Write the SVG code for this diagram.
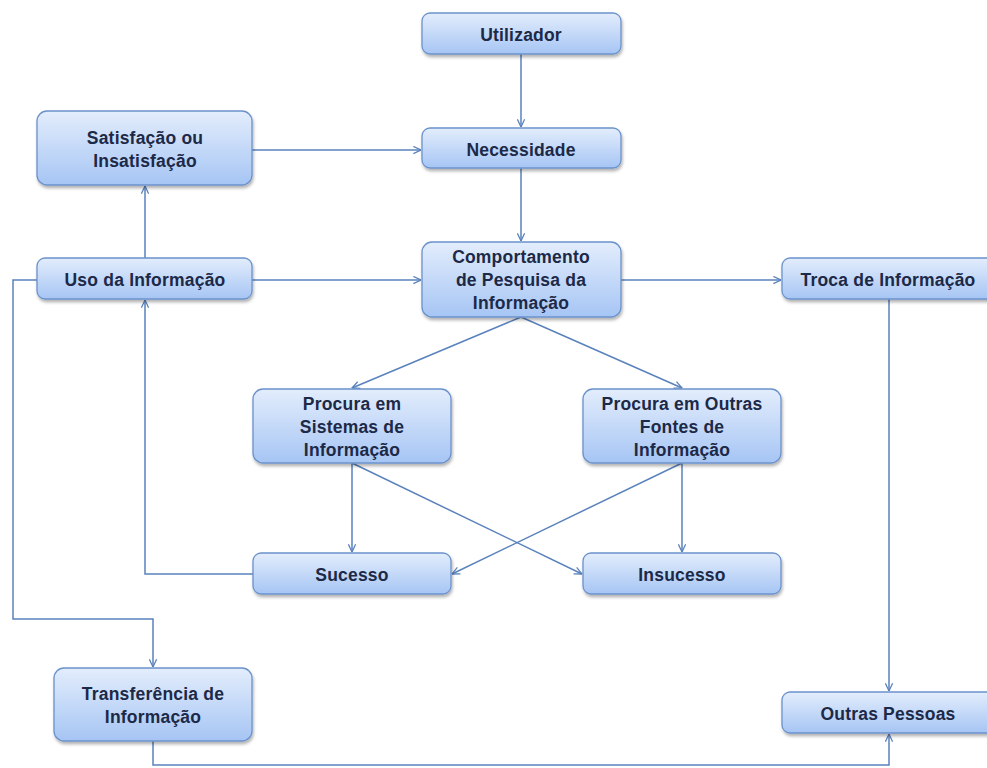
<svg xmlns="http://www.w3.org/2000/svg" width="987" height="768" viewBox="0 0 987 768">
<defs>
<linearGradient id="g" x1="0" y1="0" x2="0" y2="1">
<stop offset="0" stop-color="#e3edfc"/>
<stop offset="1" stop-color="#a6c5f4"/>
</linearGradient>
<filter id="sh" x="-10%" y="-20%" width="120%" height="150%">
<feDropShadow dx="1" dy="2.5" stdDeviation="1.6" flood-color="#000" flood-opacity="0.3"/>
</filter>
<marker id="a" viewBox="0 0 10 10" refX="9.5" refY="5" markerWidth="9" markerHeight="9" markerUnits="userSpaceOnUse" orient="auto">
<path d="M1,1 L9.5,5 L1,9" fill="none" stroke="#5a82bc" stroke-width="1.4"/>
</marker>
<style>
.box{fill:url(#g);stroke:#6b92cb;stroke-width:1.3;filter:url(#sh)}
.t{font-family:"Liberation Sans",Arial,sans-serif;font-weight:bold;font-size:17.5px;letter-spacing:0.2px;fill:#1c2947;text-anchor:middle}
.c{fill:none;stroke:#5a82bc;stroke-width:1.5}
.c.e{marker-end:url(#a)}
</style>
</defs>
<rect width="987" height="768" fill="#fff"/>
<g id="connectors">
<path class="c e" d="M521,54 V127"/>
<path class="c e" d="M252,150 H421"/>
<path class="c e" d="M521,168 V241"/>
<path class="c e" d="M252,280 H421"/>
<path class="c e" d="M145,258 V186"/>
<path class="c e" d="M621,280 H781"/>
<path class="c e" d="M521,317 L352,388"/>
<path class="c e" d="M521,317 L682,388"/>
<path class="c e" d="M352,463 V552"/>
<path class="c e" d="M352,463 L582,574"/>
<path class="c e" d="M682,463 V552"/>
<path class="c e" d="M682,463 L452,574"/>
<path class="c e" d="M253,574 H145 V300"/>
<path class="c e" d="M37,280 H13 V619 H153 V667"/>
<path class="c e" d="M889,299 V691"/>
<path class="c e" d="M153,741 V765 H889 V734"/>
</g>
<g id="utilizador"><rect class="box" x="422" y="13" width="199" height="41" rx="8"/><text class="t" x="521" y="41">Utilizador</text></g>
<g id="necessidade"><rect class="box" x="422" y="128" width="199" height="40" rx="8"/><text class="t" x="521" y="156">Necessidade</text></g>
<g id="satisfacao"><rect class="box" x="37" y="111" width="215" height="74" rx="10"/><text class="t" x="145" y="144">Satisfação  ou</text><text class="t" x="145" y="167">Insatisfação</text></g>
<g id="uso"><rect class="box" x="37" y="258" width="215" height="41" rx="8"/><text class="t" x="145" y="286">Uso da Informação</text></g>
<g id="comportamento"><rect class="box" x="422" y="242" width="199" height="75" rx="10"/><text class="t" x="521" y="263">Comportamento</text><text class="t" x="521" y="286">de Pesquisa  da</text><text class="t" x="521" y="309">Informação</text></g>
<g id="troca"><rect class="box" x="782" y="258" width="225" height="41" rx="8"/><text class="t" x="888" y="286">Troca de  Informação</text></g>
<g id="procura-sistemas"><rect class="box" x="253" y="389" width="198" height="74" rx="10"/><text class="t" x="352" y="410">Procura em</text><text class="t" x="352" y="433">Sistemas de</text><text class="t" x="352" y="456">Informação</text></g>
<g id="procura-outras"><rect class="box" x="583" y="389" width="198" height="74" rx="10"/><text class="t" x="682" y="410">Procura em  Outras</text><text class="t" x="682" y="433">Fontes de</text><text class="t" x="682" y="456">Informação</text></g>
<g id="sucesso"><rect class="box" x="253" y="553" width="198" height="41" rx="8"/><text class="t" x="352" y="581">Sucesso</text></g>
<g id="insucesso"><rect class="box" x="583" y="553" width="198" height="41" rx="8"/><text class="t" x="682" y="581">Insucesso</text></g>
<g id="transferencia"><rect class="box" x="54" y="668" width="198" height="73" rx="10"/><text class="t" x="153" y="700">Transferência de</text><text class="t" x="153" y="723">Informação</text></g>
<g id="outras-pessoas"><rect class="box" x="782" y="692" width="225" height="41" rx="8"/><text class="t" x="888" y="720">Outras Pessoas</text></g>
</svg>
